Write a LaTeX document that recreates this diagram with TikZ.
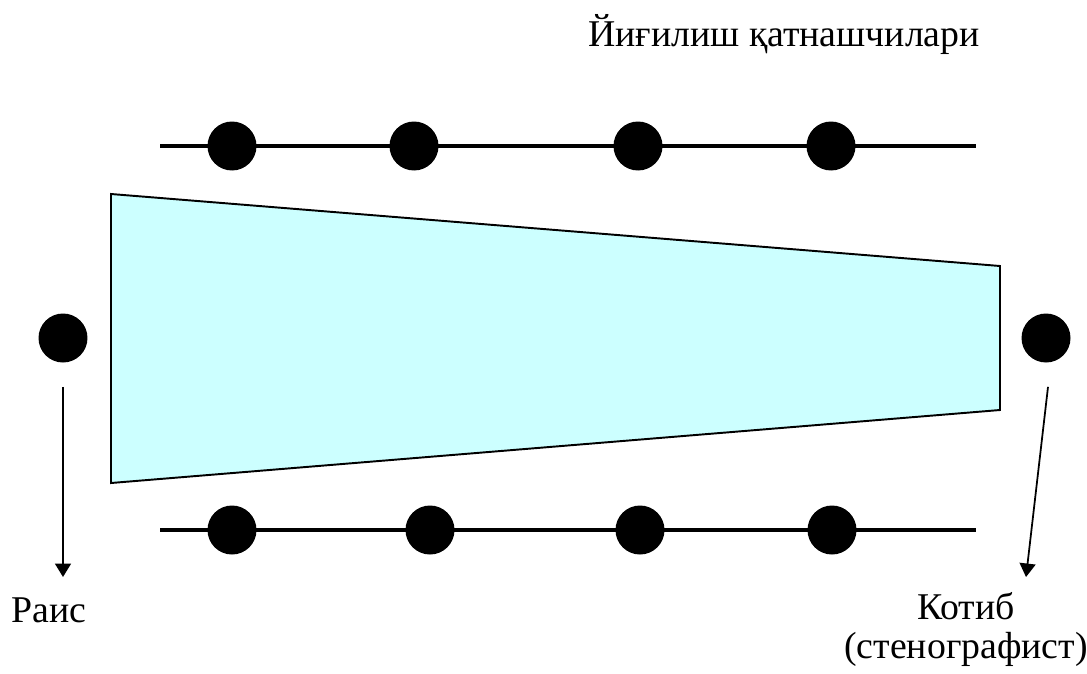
\documentclass[tikz,border=0pt]{standalone}
\usepackage{fontspec}
\setmainfont{Liberation Serif}
\usepackage{xcolor}
\usetikzlibrary{arrows.meta}

\definecolor{tablecyan}{HTML}{CCFFFF}

\begin{document}
\begin{tikzpicture}[
    x=0.02cm, y=-0.02cm,
    seat/.style={circle, fill=black, draw=none, minimum size=0.98cm,
                 inner sep=0pt},
    row/.style={line width=2.3pt},
    table/.style={draw=black, fill=tablecyan, line width=1.1pt,
                  line join=miter},
    label/.style={font=\fontsize{21.5}{22.2}\selectfont, inner sep=0pt,
                  anchor=base},
    arrow/.style={-{Triangle[width=0.32cm, length=0.27cm]}, line width=1pt},
]
\useasboundingbox (0,0) rectangle (1087,673);

% Title
\node[label] (title) at (784,46) {Йиғилиш қатнашчилари};

% Rows of participants
\coordinate (topL) at (160,146);
\coordinate (topR) at (976,146);
\coordinate (botL) at (160,530);
\coordinate (botR) at (976,530);
\draw[row] (topL) -- (topR);
\draw[row] (botL) -- (botR);

\node[seat] (t1) at (232,146) {};
\node[seat] (t2) at (414,146) {};
\node[seat] (t3) at (638,146) {};
\node[seat] (t4) at (831,146) {};

\node[seat] (b1) at (232,530) {};
\node[seat] (b2) at (430,530) {};
\node[seat] (b3) at (640,530) {};
\node[seat] (b4) at (832,530) {};

% Table
\draw[table] (111,194) -- (1000,266) -- (1000,410) -- (111,483) -- cycle;

% Chairman and secretary
\node[seat] (chair) at (63,338) {};
\node[seat] (secr) at (1046,338) {};

\coordinate (chairtip) at (63,577);
\coordinate (secrtip) at (1026,577);

\node[label] (rais) at (49,622) {Раис};
\node[label, align=center] (kotib) at (966,658) {Котиб\\(стенографист)};

% Arrows
\draw[arrow] ([yshift=-0.48cm]chair.south) -- (chairtip);
\draw[arrow] ([xshift=0.04cm, yshift=-0.48cm]secr.south) -- (secrtip);

\end{tikzpicture}
\end{document}
